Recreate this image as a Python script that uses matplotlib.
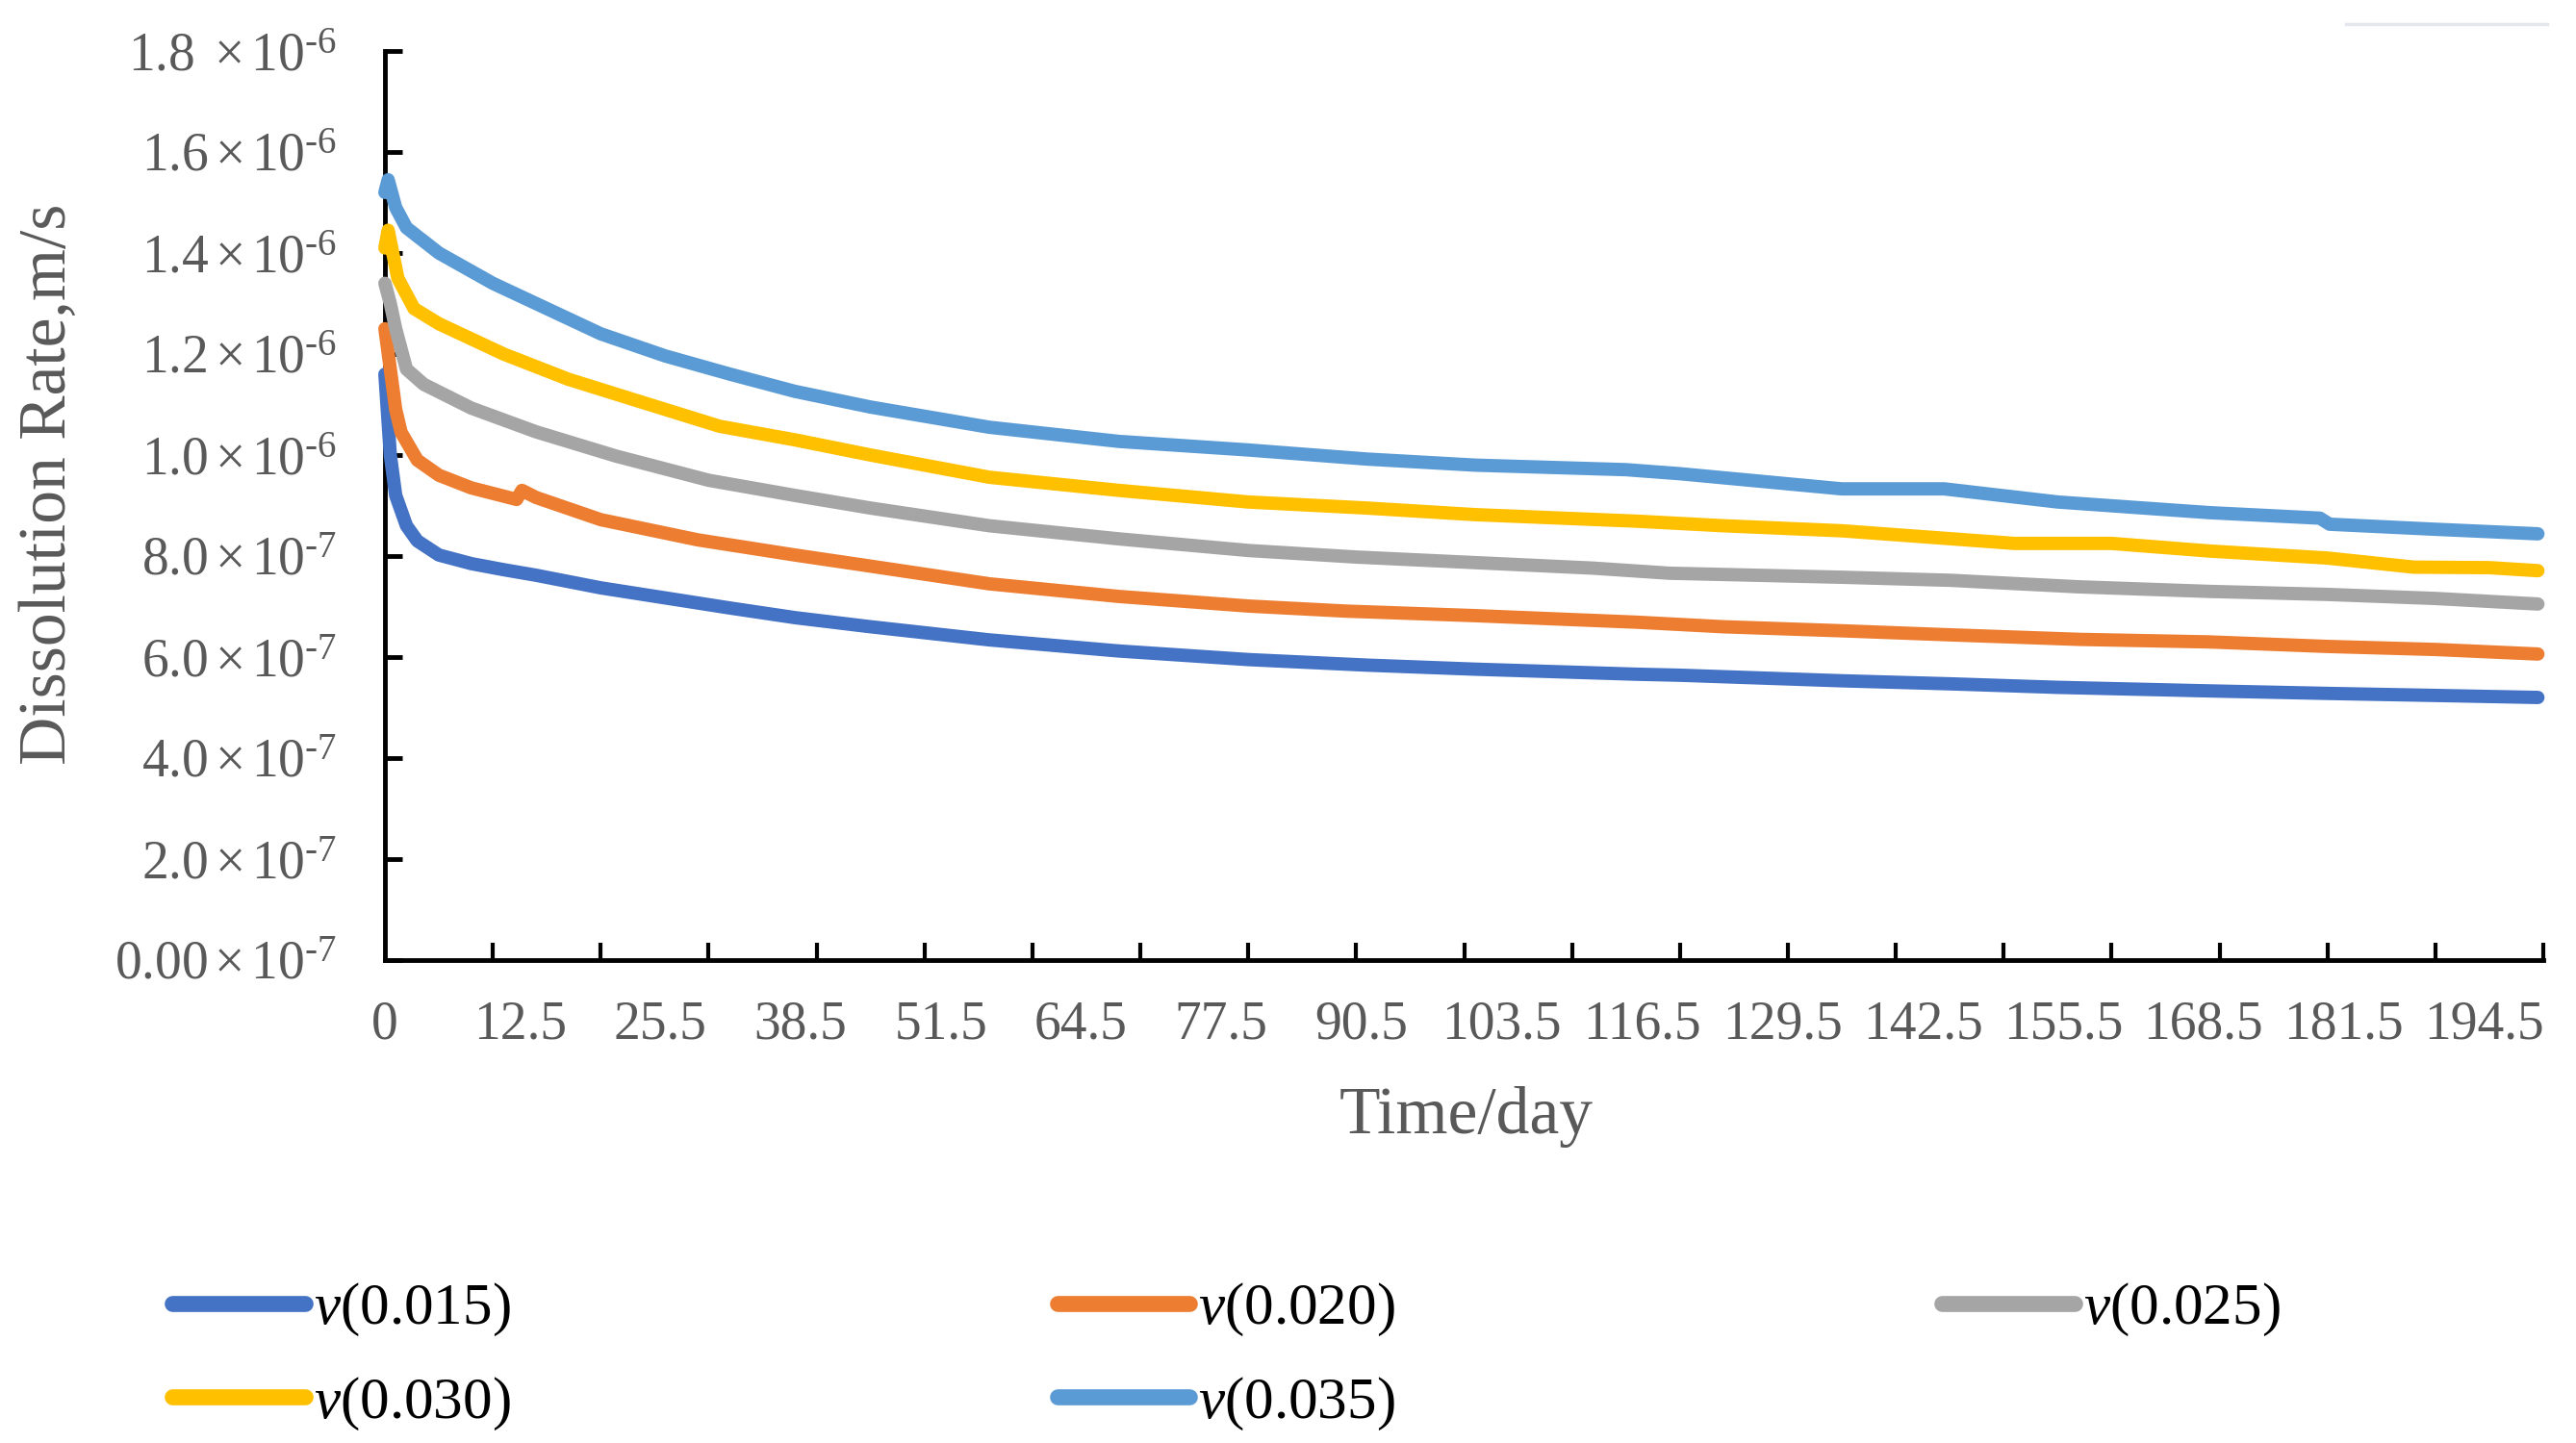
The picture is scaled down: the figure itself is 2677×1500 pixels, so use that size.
import matplotlib
matplotlib.use('Agg')
import matplotlib.pyplot as plt
from matplotlib.lines import Line2D

plt.rcParams['font.family'] = ['Liberation Serif', 'DejaVu Serif']
plt.rcParams['mathtext.fontset'] = 'custom'
plt.rcParams['mathtext.rm'] = 'Liberation Serif'
plt.rcParams['mathtext.it'] = 'Liberation Serif:italic'

# Datos (tasa en unidades de 1e-7 m/s)
dias_v015 = [0, 0.5, 1, 2, 3, 5, 8, 11, 14, 20, 26, 32, 38, 45, 56, 68, 80, 91, 101, 116,
             120, 135, 145, 155, 169, 180, 190, 199.5]
tasa_v015 = [11.6, 10.0, 9.2, 8.6, 8.3, 8.02, 7.85, 7.73, 7.62, 7.37, 7.17, 6.97, 6.78, 6.6,
             6.34, 6.12, 5.95, 5.84, 5.76, 5.66, 5.64, 5.53, 5.47, 5.4, 5.33, 5.28, 5.24, 5.2]

dias_v020 = [0, 0.5, 1, 1.5, 3, 5, 8, 12.2, 12.7, 14, 20, 29, 38, 45, 56, 68, 80, 89, 101, 116,
             124, 135, 145, 157, 169, 180, 190, 199.5]
tasa_v020 = [12.5, 11.7, 10.9, 10.45, 9.9, 9.6, 9.35, 9.12, 9.3, 9.16, 8.72, 8.32, 8.02, 7.8,
             7.45, 7.2, 7.01, 6.91, 6.82, 6.69, 6.6, 6.52, 6.44, 6.35, 6.3, 6.21, 6.15, 6.06]

dias_v025 = [0, 0.5, 1, 2, 3.6, 8, 14, 21.4, 30, 38, 45, 56, 68, 80, 90, 101, 112, 119, 135, 145,
             157, 169, 180, 190, 199.5]
tasa_v025 = [13.4, 13.0, 12.5, 11.7, 11.4, 10.93, 10.46, 9.98, 9.5, 9.2, 8.95, 8.6, 8.34, 8.11,
             7.98, 7.87, 7.76, 7.66, 7.58, 7.52, 7.39, 7.3, 7.24, 7.16, 7.05]

dias_v030 = [0, 0.3, 1.2, 2.7, 5, 11, 17, 23, 31, 38, 45, 56, 68, 80, 91, 101, 116, 124, 135, 151,
             160, 169, 180, 188, 195, 199.5]
tasa_v030 = [14.1, 14.45, 13.5, 12.9, 12.6, 12.0, 11.5, 11.1, 10.57, 10.3, 10.0, 9.56, 9.3, 9.07,
             8.95, 8.82, 8.69, 8.6, 8.5, 8.25, 8.25, 8.1, 7.96, 7.78, 7.77, 7.71]

dias_v035 = [0, 0.3, 1, 2, 5, 10, 14, 20, 26, 32, 38, 45, 56, 68, 80, 91, 101, 115, 120, 135,
             144.5, 155, 169, 179.3, 180.2, 190, 199.5]
tasa_v035 = [15.2, 15.45, 14.9, 14.5, 14.0, 13.4, 13.0, 12.4, 11.96, 11.6, 11.26, 10.95, 10.55,
             10.27, 10.1, 9.92, 9.8, 9.71, 9.63, 9.33, 9.33, 9.07, 8.86, 8.75, 8.63, 8.53, 8.44]

series = [(dias_v015, tasa_v015), (dias_v020, tasa_v020), (dias_v025, tasa_v025),
          (dias_v030, tasa_v030), (dias_v035, tasa_v035)]
etiquetas = ['$v$(0.015)', '$v$(0.020)', '$v$(0.025)', '$v$(0.030)', '$v$(0.035)']
colores = ['#4472C4', '#ED7D31', '#A5A5A5', '#FFC000', '#5B9BD5']

x_etiquetas = [0, 12.5, 25.5, 38.5, 51.5, 64.5, 77.5, 90.5, 103.5, 116.5, 129.5, 142.5,
               155.5, 168.5, 181.5, 194.5]
x_marcas = list(range(10, 201, 10))
y_valores = [0, 2e-7, 4e-7, 6e-7, 8e-7, 1.0e-6, 1.2e-6, 1.4e-6, 1.6e-6, 1.8e-6]
y_mantisas = ['0.00', '2.0', '4.0', '6.0', '8.0', '1.0', '1.2', '1.4', '1.6', '1.8 ']
y_exponentes = ['-7', '-7', '-7', '-7', '-7', '-6', '-6', '-6', '-6', '-6']

gris = '#595959'
W, H = 2677, 1500
fig = plt.figure(figsize=(W / 100, H / 100), dpi=100)
ax = fig.add_axes([400 / W, 1 - 998 / H, 2243 / W, 945 / H])

lineas = []
for (d, v), lab, c in zip(series, etiquetas, colores):
    ln, = ax.plot(d, [t * 1e-7 for t in v], color=c, lw=10, label=lab,
                  solid_capstyle='round', solid_joinstyle='round', clip_on=False, zorder=3)
    lineas.append(ln)

ax.set_xlim(0, 200)
ax.set_ylim(0, 1.8e-6)
for s in ['top', 'right']:
    ax.spines[s].set_visible(False)
for s in ['left', 'bottom']:
    ax.spines[s].set_linewidth(3.5)

ax.set_xticks(x_etiquetas)
ax.set_xticklabels([f'{x:g}' for x in x_etiquetas])
ax.set_xticks(x_marcas, minor=True)
ax.tick_params(axis='x', which='major', length=0, pad=30, labelsize=40, labelcolor=gris)
ax.tick_params(axis='x', which='minor', direction='in', length=13, width=3)
ax.set_yticks(y_valores)
ax.set_yticklabels([m + r'$\,$×$\,$10$^{\text{' + e + '}}$'
                    for m, e in zip(y_mantisas, y_exponentes)])
ax.tick_params(axis='y', direction='in', length=13, width=3.5, pad=36, labelsize=40,
               labelcolor=gris)

fig.text(51 / W, 1 - 503 / H, 'Dissolution Rate,m/s', rotation=90, ha='center', va='center',
         fontsize=50, color=gris)
fig.text(1524 / W, 1 - 1161 / H, 'Time/day', ha='center', va='center', fontsize=50, color=gris)

orden = [0, 3, 1, 4, 2]
leg = fig.legend([lineas[i] for i in orden], [etiquetas[i] for i in orden], ncol=3,
                 loc='upper left', bbox_to_anchor=(179 / W, 1 - 1332 / H), frameon=False,
                 fontsize=44, handlelength=2.25, handletextpad=0.15, columnspacing=9.3,
                 labelspacing=0.63, borderpad=0, borderaxespad=0)
for t in leg.get_texts():
    t.set_color('black')
for ln in leg.get_lines():
    ln.set_linewidth(12)

# línea tenue en la esquina superior derecha
fig.add_artist(Line2D([2438 / W, 2647 / W], [1 - 25 / H, 1 - 25 / H], color='#e4e7ec', lw=2.5))

fig.savefig('out.png', dpi=100)
